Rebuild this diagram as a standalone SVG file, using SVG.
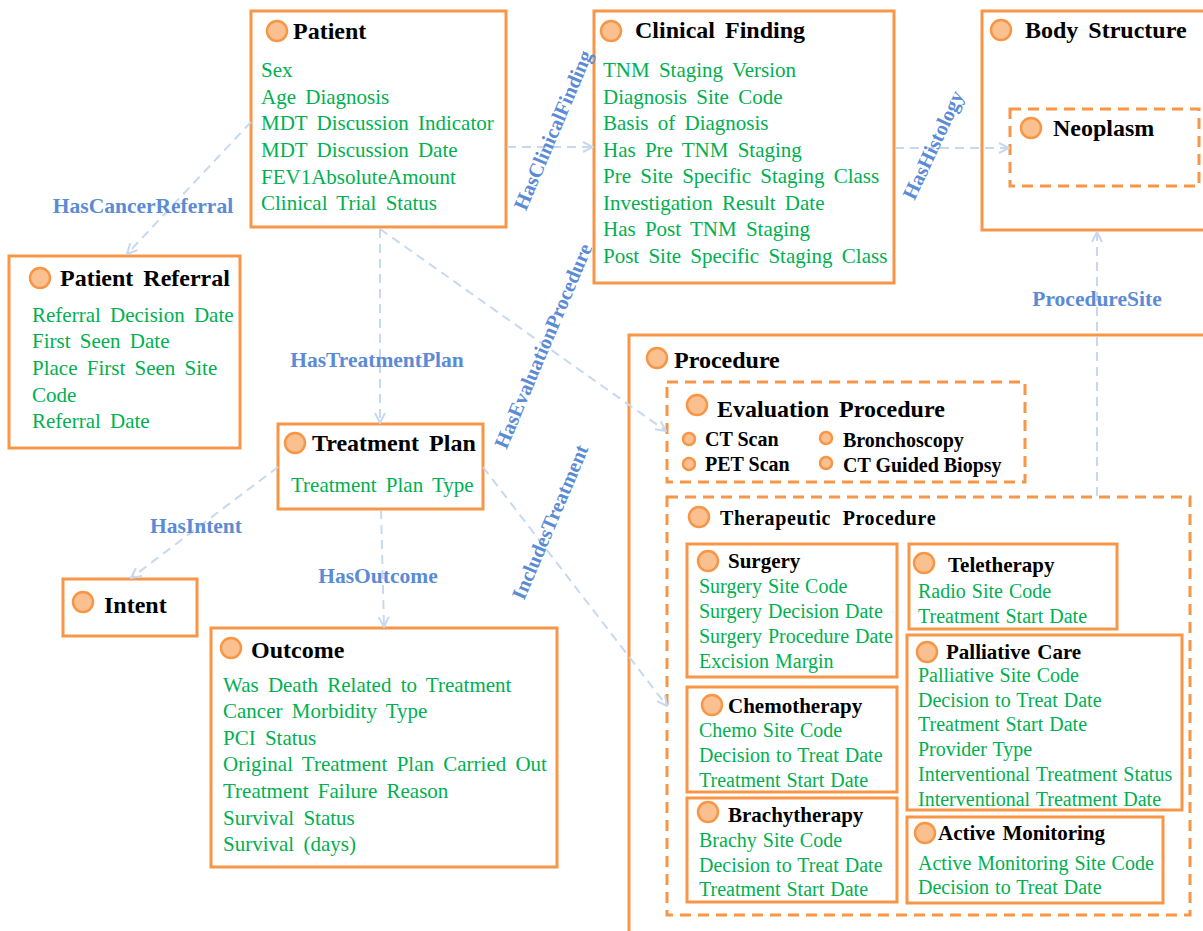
<svg xmlns="http://www.w3.org/2000/svg" width="1203" height="931" viewBox="0 0 1203 931">
<defs>
<style>
.box{fill:#fff;stroke:#F79646;stroke-width:3}
.dbox{fill:none;stroke:#F79646;stroke-width:3;stroke-dasharray:11 7}
.dot{fill:#FAC08F;stroke:#F79646;stroke-width:2.5}
.t1{font-family:"Liberation Serif","Times New Roman",serif;font-weight:bold;font-size:24px;fill:#000;word-spacing:4px}
.t2{font-family:"Liberation Serif","Times New Roman",serif;font-weight:bold;font-size:21px;fill:#000;word-spacing:2px}
.t3{font-family:"Liberation Serif","Times New Roman",serif;font-weight:bold;font-size:20px;fill:#000}
.a1{font-family:"Liberation Serif","Times New Roman",serif;font-size:21px;fill:#00B050;word-spacing:4px}
.a2{font-family:"Liberation Serif","Times New Roman",serif;font-size:20px;fill:#00B050;word-spacing:1px}
.lbl{font-family:"Liberation Serif","Times New Roman",serif;font-weight:bold;font-size:21.5px;fill:#5B8BD5}
.rl{font-size:20.5px}
.conn{fill:none;stroke:#C6D9F1;stroke-width:2;stroke-dasharray:9 6;marker-end:url(#arr)}
</style>
<marker id="arr" viewBox="0 0 12 12" refX="11" refY="6" markerWidth="12" markerHeight="12" markerUnits="userSpaceOnUse" orient="auto">
<path d="M1,1 L11,6 L1,11" fill="none" stroke="#C6D9F1" stroke-width="2"/>
</marker>
</defs>
<rect width="1203" height="931" fill="#fff"/>

<g id="patient">
<rect class="box" x="251" y="11" width="255" height="216"/>
<circle class="dot" cx="277" cy="31" r="10"/>
<text class="t1" x="293" y="39">Patient</text>
<text class="a1" x="261" y="77">Sex</text>
<text class="a1" x="261" y="104">Age Diagnosis</text>
<text class="a1" x="261" y="130">MDT Discussion Indicator</text>
<text class="a1" x="261" y="157">MDT Discussion Date</text>
<text class="a1" x="261" y="184">FEV1AbsoluteAmount</text>
<text class="a1" x="261" y="210">Clinical Trial Status</text>
</g>

<g id="clinical-finding">
<rect class="box" x="594" y="11" width="300" height="272"/>
<circle class="dot" cx="611" cy="31" r="10"/>
<text class="t1" x="635" y="38">Clinical Finding</text>
<text class="a1" x="603" y="77">TNM Staging Version</text>
<text class="a1" x="603" y="104">Diagnosis Site Code</text>
<text class="a1" x="603" y="130">Basis of Diagnosis</text>
<text class="a1" x="603" y="157">Has Pre TNM Staging</text>
<text class="a1" x="603" y="183">Pre Site Specific Staging Class</text>
<text class="a1" x="603" y="210">Investigation Result Date</text>
<text class="a1" x="603" y="236">Has Post TNM Staging</text>
<text class="a1" x="603" y="263">Post Site Specific Staging Class</text>
</g>

<g id="body-structure">
<rect class="box" x="982" y="11" width="240" height="219"/>
<circle class="dot" cx="1001" cy="30" r="10"/>
<text class="t1" x="1025" y="38">Body Structure</text>
</g>

<g id="neoplasm">
<rect class="dbox" x="1010" y="109" width="189" height="77"/>
<circle class="dot" cx="1031" cy="128" r="10"/>
<text class="t1" x="1053" y="136">Neoplasm</text>
</g>

<g id="patient-referral">
<rect class="box" x="9" y="256" width="231" height="192"/>
<circle class="dot" cx="40" cy="278" r="10"/>
<text class="t1" x="60" y="286">Patient Referral</text>
<text class="a1" x="32" y="322">Referral Decision Date</text>
<text class="a1" x="32" y="348">First Seen Date</text>
<text class="a1" x="32" y="375">Place First Seen Site</text>
<text class="a1" x="32" y="402">Code</text>
<text class="a1" x="32" y="428">Referral Date</text>
</g>

<g id="treatment-plan">
<rect class="box" x="278" y="424" width="205" height="85"/>
<circle class="dot" cx="295" cy="443" r="10"/>
<text class="t1" x="312" y="451">Treatment Plan</text>
<text class="a1" x="291" y="492">Treatment Plan Type</text>
</g>

<g id="intent">
<rect class="box" x="63" y="579" width="134" height="57"/>
<circle class="dot" cx="83" cy="602" r="10"/>
<text class="t1" x="104" y="613">Intent</text>
</g>

<g id="outcome">
<rect class="box" x="211" y="628" width="346" height="239"/>
<circle class="dot" cx="231" cy="648" r="10"/>
<text class="t1" x="251" y="658">Outcome</text>
<text class="a1" x="223" y="692">Was Death Related to Treatment</text>
<text class="a1" x="223" y="718">Cancer Morbidity Type</text>
<text class="a1" x="223" y="745">PCI Status</text>
<text class="a1" x="223" y="771">Original Treatment Plan Carried Out</text>
<text class="a1" x="223" y="798">Treatment Failure Reason</text>
<text class="a1" x="223" y="825">Survival Status</text>
<text class="a1" x="223" y="851">Survival (days)</text>
</g>

<g id="procedure">
<rect class="box" x="629" y="335" width="600" height="620"/>
<circle class="dot" cx="657" cy="358" r="10"/>
<text class="t1" x="674" y="368">Procedure</text>
</g>

<g id="evaluation-procedure">
<rect class="dbox" x="667" y="382" width="358" height="100"/>
<circle class="dot" cx="697" cy="405" r="10"/>
<text class="t1" x="717" y="417">Evaluation Procedure</text>
<circle class="dot" cx="689" cy="439" r="6"/>
<text class="t3" x="705" y="446">CT Scan</text>
<circle class="dot" cx="689" cy="464" r="6"/>
<text class="t3" x="705" y="471">PET Scan</text>
<circle class="dot" cx="826" cy="438" r="6"/>
<text class="t3" x="843" y="447">Bronchoscopy</text>
<circle class="dot" cx="826" cy="463" r="6"/>
<text class="t3" x="843" y="472">CT Guided Biopsy</text>
</g>

<g id="therapeutic-procedure">
<rect class="dbox" x="667" y="497" width="523" height="418"/>
<circle class="dot" cx="699" cy="517" r="10"/>
<text class="t2" x="720" y="525" style="font-size:20px;word-spacing:6px;letter-spacing:0.6px">Therapeutic Procedure</text>
</g>

<g id="surgery">
<rect class="box" x="687" y="544" width="210" height="133"/>
<circle class="dot" cx="708" cy="561" r="10"/>
<text class="t2" x="728" y="568">Surgery</text>
<text class="a2" x="699" y="593">Surgery Site Code</text>
<text class="a2" x="699" y="618">Surgery Decision Date</text>
<text class="a2" x="699" y="643">Surgery Procedure Date</text>
<text class="a2" x="699" y="668">Excision Margin</text>
</g>

<g id="chemotherapy">
<rect class="box" x="687" y="687" width="210" height="105"/>
<circle class="dot" cx="712" cy="705" r="10"/>
<text class="t2" x="728" y="713">Chemotherapy</text>
<text class="a2" x="699" y="737">Chemo Site Code</text>
<text class="a2" x="699" y="762">Decision to Treat Date</text>
<text class="a2" x="699" y="787">Treatment Start Date</text>
</g>

<g id="brachytherapy">
<rect class="box" x="687" y="798" width="210" height="104"/>
<circle class="dot" cx="708" cy="812" r="10"/>
<text class="t2" x="728" y="822">Brachytherapy</text>
<text class="a2" x="699" y="847">Brachy Site Code</text>
<text class="a2" x="699" y="872">Decision to Treat Date</text>
<text class="a2" x="699" y="896">Treatment Start Date</text>
</g>

<g id="teletherapy">
<rect class="box" x="909" y="544" width="208" height="85"/>
<circle class="dot" cx="924" cy="563" r="10"/>
<text class="t2" x="948" y="572">Teletherapy</text>
<text class="a2" x="918" y="598">Radio Site Code</text>
<text class="a2" x="918" y="623">Treatment Start Date</text>
</g>

<g id="palliative-care">
<rect class="box" x="907" y="635" width="275" height="175"/>
<circle class="dot" cx="927" cy="652" r="10"/>
<text class="t2" x="946" y="659">Palliative Care</text>
<text class="a2" x="918" y="682">Palliative Site Code</text>
<text class="a2" x="918" y="707">Decision to Treat Date</text>
<text class="a2" x="918" y="731">Treatment Start Date</text>
<text class="a2" x="918" y="756">Provider Type</text>
<text class="a2" x="918" y="781">Interventional Treatment Status</text>
<text class="a2" x="918" y="806">Interventional Treatment Date</text>
</g>

<g id="active-monitoring">
<rect class="box" x="907" y="817" width="256" height="86"/>
<circle class="dot" cx="925" cy="833" r="10"/>
<text class="t2" x="938" y="840">Active Monitoring</text>
<text class="a2" x="918" y="870">Active Monitoring Site Code</text>
<text class="a2" x="918" y="894">Decision to Treat Date</text>
</g>

<g id="connectors">
<path class="conn" d="M251,122 L127,254"/>
<path class="conn" d="M507,147 L593,147"/>
<path class="conn" d="M895,148 L1009,148"/>
<path class="conn" d="M380,229 L380,423"/>
<path class="conn" d="M380,229 L666,431"/>
<path class="conn" d="M278,467 L131,578"/>
<path class="conn" d="M381,510 L384,627"/>
<path class="conn" d="M483,467 L667,706"/>
<path class="conn" d="M1097,496 L1097,232"/>
<text class="lbl" x="143" y="213" text-anchor="middle">HasCancerReferral</text>
<text class="lbl rl" transform="translate(553,130) rotate(-67)" x="0" y="7" text-anchor="middle">HasClinicalFinding</text>
<text class="lbl rl" transform="translate(933,145) rotate(-65)" x="0" y="7" text-anchor="middle">HasHistology</text>
<text class="lbl" x="377" y="367" text-anchor="middle">HasTreatmentPlan</text>
<text class="lbl rl" transform="translate(543,346) rotate(-67)" x="0" y="7" text-anchor="middle">HasEvaluationProcedure</text>
<text class="lbl" x="196" y="533" text-anchor="middle">HasIntent</text>
<text class="lbl" x="378" y="583" text-anchor="middle">HasOutcome</text>
<text class="lbl rl" transform="translate(550,522) rotate(-67)" x="0" y="7" text-anchor="middle">IncludesTreatment</text>
<text class="lbl" x="1097" y="306" text-anchor="middle">ProcedureSite</text>
</g>
</svg>
